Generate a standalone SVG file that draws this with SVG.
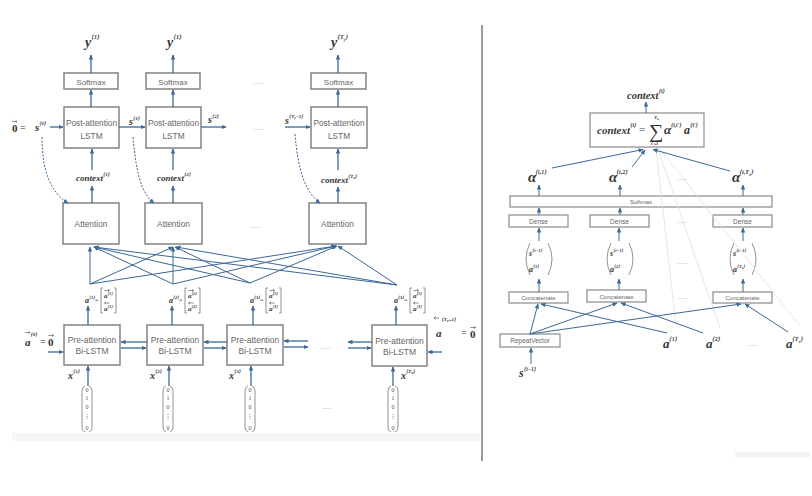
<svg xmlns="http://www.w3.org/2000/svg" xmlns:xlink="http://www.w3.org/1999/xlink" width="812" height="496" viewBox="0 0 812 496">
<defs>
<marker id="ah" viewBox="0 0 10 10" refX="9" refY="5" markerWidth="5" markerHeight="5" markerUnits="userSpaceOnUse" orient="auto"><path d="M0,0.5 L10,5 L0,9.5 z" fill="#3a6898"/></marker>
<path id="rarr" d="M0 0 H5 M3.6 -1.3 L5 0 L3.6 1.3" stroke="#444" stroke-width="0.6" fill="none"/>
<path id="larr" d="M5 0 H0 M1.4 -1.3 L0 0 L1.4 1.3" stroke="#444" stroke-width="0.6" fill="none"/>
<style>
.box{fill:#fff;stroke:#8a8a8a;stroke-width:1.6}
.sbox{fill:#fff;stroke:#8a8a8a;stroke-width:1.2}
.t{font-family:"Liberation Sans",Arial,sans-serif;fill:#666;text-anchor:middle}
.m{font-family:"Liberation Serif","DejaVu Serif",serif;font-style:italic;font-weight:bold;fill:#333}
.n{font-family:"Liberation Serif","DejaVu Serif",serif;fill:#333}
.c{stroke:#3a6898;stroke-width:1.3;fill:none;marker-end:url(#ah)}
.cl{stroke:#3a6898;stroke-width:1;fill:none;marker-end:url(#ah)}
.d{stroke:#3a6898;stroke-width:1;fill:none;stroke-dasharray:2 1.5;marker-end:url(#ah)}
.dots{font-family:"Liberation Sans",sans-serif;font-size:7px;fill:#aaa;text-anchor:middle}
.br{stroke:#777;stroke-width:0.8;fill:none}
.f{stroke:#e0e0e0;stroke-width:0.8;fill:none}
.v{font-family:"Liberation Serif",serif;font-size:6px;fill:#555;text-anchor:middle}
</style>
</defs>
<rect width="812" height="496" fill="#fff"/>
<rect x="12" y="433" width="468" height="8" fill="#f5f5f5"/>
<rect x="735" y="452" width="75" height="6" fill="#f5f5f5"/>
<g id="divider"><line x1="482" y1="25" x2="482" y2="461" stroke="#555" stroke-width="1.2"/></g>

<!-- LEFT PANEL NODES -->
<g id="softmax1"><rect class="box" x="64" y="73" width="54" height="16"/><text class="t" x="91" y="84.5" font-size="8">Softmax</text></g>
<g id="softmax2"><rect class="box" x="146" y="73" width="54" height="16"/><text class="t" x="173" y="84.5" font-size="8">Softmax</text></g>
<g id="softmax3"><rect class="box" x="311" y="73" width="55" height="16"/><text class="t" x="338.5" y="84.5" font-size="8">Softmax</text></g>

<g id="post1"><rect class="box" x="64" y="107" width="55" height="41"/><text class="t" x="91.5" y="126" font-size="8.3">Post-attention</text><text class="t" x="91.5" y="139" font-size="8.3">LSTM</text></g>
<g id="post2"><rect class="box" x="146" y="107" width="55" height="41"/><text class="t" x="173.5" y="126" font-size="8.3">Post-attention</text><text class="t" x="173.5" y="139" font-size="8.3">LSTM</text></g>
<g id="post3"><rect class="box" x="311" y="107" width="56" height="41"/><text class="t" x="339" y="126" font-size="8.3">Post-attention</text><text class="t" x="339" y="139" font-size="8.3">LSTM</text></g>

<g id="att1"><rect class="box" x="63" y="203" width="56" height="41"/><text class="t" x="91" y="227" font-size="8.3">Attention</text></g>
<g id="att2"><rect class="box" x="145" y="203" width="57" height="41"/><text class="t" x="173.5" y="227" font-size="8.3">Attention</text></g>
<g id="att3"><rect class="box" x="309" y="203" width="57" height="41"/><text class="t" x="337.5" y="227" font-size="8.3">Attention</text></g>

<g id="pre1"><rect class="box" x="64" y="325" width="56" height="40"/><text class="t" x="92" y="343" font-size="8.5">Pre-attention</text><text class="t" x="92" y="354" font-size="8.5">Bi-LSTM</text></g>
<g id="pre2"><rect class="box" x="147" y="325" width="56" height="40"/><text class="t" x="175" y="343" font-size="8.5">Pre-attention</text><text class="t" x="175" y="354" font-size="8.5">Bi-LSTM</text></g>
<g id="pre3"><rect class="box" x="227" y="325" width="56" height="40"/><text class="t" x="255" y="343" font-size="8.5">Pre-attention</text><text class="t" x="255" y="354" font-size="8.5">Bi-LSTM</text></g>
<g id="pre4"><rect class="box" x="372" y="325" width="55" height="41"/><text class="t" x="399.5" y="344" font-size="8.5">Pre-attention</text><text class="t" x="399.5" y="355" font-size="8.5">Bi-LSTM</text></g>

<!-- LEFT LABELS -->
<g id="labels-left">
<text class="m" x="85" y="47" font-size="14">y<tspan font-size="6" dy="-8">⟨1⟩</tspan></text>
<text class="m" x="167" y="47" font-size="14">y<tspan font-size="6" dy="-8">⟨1⟩</tspan></text>
<text class="m" x="331" y="47" font-size="14">y<tspan font-size="6" dy="-8">⟨T<tspan font-size="4" dy="1.5">y</tspan><tspan dy="-1.5">⟩</tspan></tspan></text>

<use xlink:href="#rarr" href="#rarr" x="12" y="121.5"/>
<text class="n" x="12" y="132" font-size="11" font-weight="bold">0</text>
<text class="n" x="20" y="131" font-size="10">=</text>
<text class="m" x="35" y="131" font-size="11">s<tspan font-size="5" dy="-6">⟨0⟩</tspan></text>
<text class="m" x="129" y="125" font-size="10">s<tspan font-size="5" dy="-5">⟨1⟩</tspan></text>
<text class="m" x="208" y="123" font-size="10">s<tspan font-size="5" dy="-5">⟨2⟩</tspan></text>
<text class="m" x="285" y="124" font-size="10">s<tspan font-size="5" dy="-6">⟨T<tspan font-size="3.5" dy="1">y</tspan><tspan dy="-1">−1⟩</tspan></tspan></text>

<text class="m" x="76" y="181" font-size="9">context<tspan font-size="5" dy="-5">⟨1⟩</tspan></text>
<text class="m" x="157" y="181" font-size="9">context<tspan font-size="5" dy="-5">⟨2⟩</tspan></text>
<text class="m" x="321" y="183" font-size="9">context<tspan font-size="5" dy="-5">⟨T<tspan font-size="3.5" dy="1">x</tspan><tspan dy="-1">⟩</tspan></tspan></text>

<text class="dots" x="258" y="84">.....</text>
<text class="dots" x="258" y="130">.....</text>
<text class="dots" x="255" y="228">.....</text>
<text class="dots" x="325" y="349">.....</text>
<text class="dots" x="327" y="409">.....</text>

<use xlink:href="#rarr" href="#rarr" x="25" y="332.5"/>
<text class="m" x="25" y="346" font-size="11">a<tspan font-size="5" dy="-10">⟨0⟩</tspan></text>
<text class="n" x="40" y="345" font-size="10">=</text>
<use xlink:href="#rarr" href="#rarr" x="48.5" y="335.5"/>
<text class="n" x="48" y="346" font-size="11" font-weight="bold">0</text>

<use xlink:href="#larr" href="#larr" x="434" y="318"/>
<text class="m" x="436" y="337" font-size="11">a<tspan font-size="5" dy="-16">⟨T<tspan font-size="3.5" dy="1">x</tspan><tspan dy="-1">+1⟩</tspan></tspan></text>
<text class="n" x="461" y="336" font-size="10">=</text>
<use xlink:href="#rarr" href="#rarr" x="470.5" y="327.5"/>
<text class="n" x="470" y="338" font-size="11" font-weight="bold">0</text>

<text class="m" x="68" y="379" font-size="10">x<tspan font-size="5" dy="-6">⟨1⟩</tspan></text>
<text class="m" x="150" y="379" font-size="10">x<tspan font-size="5" dy="-6">⟨2⟩</tspan></text>
<text class="m" x="229" y="379" font-size="10">x<tspan font-size="5" dy="-6">⟨3⟩</tspan></text>
<text class="m" x="401" y="379" font-size="10">x<tspan font-size="5" dy="-6">⟨T<tspan font-size="3.5" dy="1">x</tspan><tspan dy="-1">⟩</tspan></tspan></text>
</g>

<g id="alabel1">
<text class="m" x="85" y="303" font-size="8">a<tspan font-size="4.5" dy="-4">⟨1⟩</tspan></text>
<text class="n" x="95" y="302" font-size="6">=</text>
<path class="br" d="M103 288 h-2 v25 h2 M114 288 h2 v25 h-2"/>
<use xlink:href="#rarr" href="#rarr" x="104.5" y="290.5"/>
<text class="m" x="104" y="298" font-size="7">a<tspan font-size="4" dy="-3.5">⟨1⟩</tspan></text>
<use xlink:href="#larr" href="#larr" x="104.5" y="303"/>
<text class="m" x="104" y="311" font-size="7">a<tspan font-size="4" dy="-3.5">⟨1⟩</tspan></text>
</g>
<g id="alabel2">
<text class="m" x="169" y="303" font-size="8">a<tspan font-size="4.5" dy="-4">⟨2⟩</tspan></text>
<text class="n" x="179" y="302" font-size="6">=</text>
<path class="br" d="M187 288 h-2 v25 h2 M198 288 h2 v25 h-2"/>
<use xlink:href="#rarr" href="#rarr" x="188.5" y="290.5"/>
<text class="m" x="188" y="298" font-size="7">a<tspan font-size="4" dy="-3.5">⟨2⟩</tspan></text>
<use xlink:href="#larr" href="#larr" x="188.5" y="303"/>
<text class="m" x="188" y="311" font-size="7">a<tspan font-size="4" dy="-3.5">⟨2⟩</tspan></text>
</g>
<g id="alabel3">
<text class="m" x="250" y="303" font-size="8">a<tspan font-size="4.5" dy="-4">⟨3⟩</tspan></text>
<text class="n" x="260" y="302" font-size="6">=</text>
<path class="br" d="M268 288 h-2 v25 h2 M279 288 h2 v25 h-2"/>
<use xlink:href="#rarr" href="#rarr" x="269.5" y="290.5"/>
<text class="m" x="269" y="298" font-size="7">a<tspan font-size="4" dy="-3.5">⟨3⟩</tspan></text>
<use xlink:href="#larr" href="#larr" x="269.5" y="303"/>
<text class="m" x="269" y="311" font-size="7">a<tspan font-size="4" dy="-3.5">⟨3⟩</tspan></text>
</g>
<g id="alabel4">
<text class="m" x="394" y="303" font-size="8">a<tspan font-size="4.5" dy="-4">⟨3⟩</tspan></text>
<text class="n" x="404" y="302" font-size="6">=</text>
<path class="br" d="M412 288 h-2 v25 h2 M423 288 h2 v25 h-2"/>
<use xlink:href="#rarr" href="#rarr" x="413.5" y="290.5"/>
<text class="m" x="413" y="298" font-size="7">a<tspan font-size="4" dy="-3.5">⟨3⟩</tspan></text>
<use xlink:href="#larr" href="#larr" x="413.5" y="303"/>
<text class="m" x="413" y="311" font-size="7">a<tspan font-size="4" dy="-3.5">⟨3⟩</tspan></text>
</g>

<g id="input1"><path class="br" d="M85 386 Q82 387 82 391 L82 427 Q82 431 85 432 M89 386 Q92 387 92 391 L92 427 Q92 431 89 432"/>
<text class="v" x="87" y="392">0</text><text class="v" x="87" y="400">1</text><text class="v" x="87" y="409">0</text><text class="v" x="87" y="418">⋮</text><text class="v" x="87" y="430">0</text></g>
<g id="input2"><path class="br" d="M166 386 Q163 387 163 391 L163 427 Q163 431 166 432 M170 386 Q173 387 173 391 L173 427 Q173 431 170 432"/>
<text class="v" x="168" y="392">0</text><text class="v" x="168" y="400">1</text><text class="v" x="168" y="409">0</text><text class="v" x="168" y="418">⋮</text><text class="v" x="168" y="430">0</text></g>
<g id="input3"><path class="br" d="M248 386 Q245 387 245 391 L245 427 Q245 431 248 432 M252 386 Q255 387 255 391 L255 427 Q255 431 252 432"/>
<text class="v" x="250" y="392">0</text><text class="v" x="250" y="400">1</text><text class="v" x="250" y="409">0</text><text class="v" x="250" y="418">⋮</text><text class="v" x="250" y="430">0</text></g>
<g id="input4"><path class="br" d="M391 386 Q388 387 388 391 L388 427 Q388 431 391 432 M395 386 Q398 387 398 391 L398 427 Q398 431 395 432"/>
<text class="v" x="393" y="392">0</text><text class="v" x="393" y="400">1</text><text class="v" x="393" y="409">0</text><text class="v" x="393" y="418">⋮</text><text class="v" x="393" y="430">0</text></g>

<!-- RIGHT PANEL NODES -->
<g id="ctx-label"><text class="m" x="627" y="99" font-size="10.5">context<tspan font-size="5.5" dy="-6">⟨t⟩</tspan></text></g>
<g id="ctx-box"><rect class="sbox" x="590" y="113" width="114" height="34"/>
<text class="m" x="597" y="134" font-size="11">context<tspan font-size="5.5" dy="-7">⟨t⟩</tspan></text>
<text class="n" x="639" y="133" font-size="11">=</text>
<text class="n" x="649" y="138" font-size="20">∑</text>
<text class="m" x="654" y="119" font-size="5">T<tspan font-size="3.5" dy="1">x</tspan></text>
<text class="m" x="651" y="145" font-size="4.5">t′=1</text>
<text class="m" x="664" y="134" font-size="13">α<tspan font-size="5.5" dy="-7" dx="-0.5">⟨t,t′⟩</tspan></text>
<text class="m" x="684" y="134" font-size="12">a<tspan font-size="5.5" dy="-7">⟨t′⟩</tspan></text>
</g>
<g id="alpha1"><text class="m" x="528" y="182" font-size="15">α<tspan font-size="6" dy="-8" dx="-1">⟨t,1⟩</tspan></text></g>
<g id="alpha2"><text class="m" x="609" y="182" font-size="15">α<tspan font-size="6" dy="-8" dx="-1">⟨t,2⟩</tspan></text></g>
<g id="alpha3"><text class="m" x="732" y="182" font-size="15">α<tspan font-size="6" dy="-8" dx="-1">⟨t,T<tspan font-size="4" dy="1.5">x</tspan><tspan dy="-1.5">⟩</tspan></tspan></text></g>
<g id="softmax-r"><rect class="sbox" x="510" y="196" width="262" height="11"/><text class="t" x="641" y="203.5" font-size="6">Softmax</text></g>
<g id="dense1"><rect class="sbox" x="509" y="215" width="59" height="12"/><text class="t" x="538.5" y="223.5" font-size="6.5">Dense</text></g>
<g id="dense2"><rect class="sbox" x="590" y="215" width="59" height="12"/><text class="t" x="619.5" y="223.5" font-size="6.5">Dense</text></g>
<g id="dense3"><rect class="sbox" x="713" y="215" width="59" height="12"/><text class="t" x="742.5" y="223.5" font-size="6.5">Dense</text></g>
<g id="vec1"><path class="br" d="M530 243 Q522 259 530 275 M548 243 Q556 259 548 275"/>
<text class="m" x="529" y="256" font-size="8">s<tspan font-size="4.5" dy="-4">⟨t−1⟩</tspan></text>
<text class="m" x="529" y="272" font-size="8">a<tspan font-size="4.5" dy="-4">⟨1⟩</tspan></text></g>
<g id="vec2"><path class="br" d="M611 243 Q603 259 611 275 M629 243 Q637 259 629 275"/>
<text class="m" x="610" y="256" font-size="8">s<tspan font-size="4.5" dy="-4">⟨t−1⟩</tspan></text>
<text class="m" x="610" y="272" font-size="8">a<tspan font-size="4.5" dy="-4">⟨2⟩</tspan></text></g>
<g id="vec3"><path class="br" d="M734 243 Q726 259 734 275 M752 243 Q760 259 752 275"/>
<text class="m" x="733" y="256" font-size="8">s<tspan font-size="4.5" dy="-4">⟨t−1⟩</tspan></text>
<text class="m" x="733" y="272" font-size="8">a<tspan font-size="4.5" dy="-4">⟨T<tspan font-size="3" dy="1">x</tspan><tspan dy="-1">⟩</tspan></tspan></text></g>
<g id="concat1"><rect class="sbox" x="509" y="292" width="59" height="11"/><text class="t" x="538.5" y="300" font-size="6">Concatenate</text></g>
<g id="concat2"><rect class="sbox" x="587" y="290" width="59" height="12"/><text class="t" x="616.5" y="298.5" font-size="6">Concatenate</text></g>
<g id="concat3"><rect class="sbox" x="713" y="292" width="59" height="11"/><text class="t" x="742.5" y="300" font-size="6">Concatenate</text></g>
<g id="repeat"><rect class="sbox" x="500" y="334" width="60" height="13"/><text class="t" x="530" y="343" font-size="6.5">RepeatVector</text></g>
<g id="s-prev"><text class="m" x="519" y="377" font-size="12">s<tspan font-size="5.5" dy="-6">⟨t−1⟩</tspan></text></g>
<g id="a1"><text class="m" x="663" y="348" font-size="13">a<tspan font-size="6" dy="-7" dx="-0.5">⟨1⟩</tspan></text></g>
<g id="a2"><text class="m" x="706" y="348" font-size="13">a<tspan font-size="6" dy="-7" dx="-0.5">⟨2⟩</tspan></text></g>
<g id="aTx"><text class="m" x="786" y="348" font-size="13">a<tspan font-size="6" dy="-7" dx="-0.5">⟨T<tspan font-size="4" dy="1.5">x</tspan><tspan dy="-1.5">⟩</tspan></tspan></text></g>
<text class="dots" x="682" y="180">.....</text>
<text class="dots" x="682" y="223">.....</text>
<text class="dots" x="682" y="264">.....</text>
<text class="dots" x="682" y="299">.....</text>
<text class="dots" x="753" y="346">.....</text>

<!-- CONNECTORS -->
<g id="connectors">
<path class="f" d="M656 149 L676 325 M658 149 L720 328 M660 149 L800 326"/>
<path class="c" d="M91 73 V55"/><path class="c" d="M173 73 V55"/><path class="c" d="M338 73 V55"/>
<path class="c" d="M91 107 V90"/><path class="c" d="M173 107 V90"/><path class="c" d="M338 107 V90"/>
<path class="c" d="M50 127 H63"/><path class="c" d="M119 127 H145"/><path class="c" d="M201 127 H226"/><path class="c" d="M285 127 H310"/>
<path class="c" d="M92 203 V186"/><path class="c" d="M92 170 V149"/>
<path class="c" d="M173 203 V186"/><path class="c" d="M173 170 V149"/>
<path class="c" d="M338 203 V187"/><path class="c" d="M338 170 V149"/>
<path class="d" d="M42 137 C42 170 50 192 68 203"/>
<path class="d" d="M133 137 C136 170 140 192 154 203"/>
<path class="d" d="M295 134 C298 170 305 192 320 203"/>
<path class="cl" d="M90 284 V247"/><path class="cl" d="M90 284 L173 247"/><path class="cl" d="M90 284 L336 246"/>
<path class="cl" d="M173 284 L94 247"/><path class="cl" d="M173 284 V247"/><path class="cl" d="M173 284 L336 246"/>
<path class="cl" d="M250 283 L94 247"/><path class="cl" d="M250 283 L175 247"/><path class="cl" d="M250 283 L337 246"/>
<path class="cl" d="M397 285 L94 247"/><path class="cl" d="M397 285 L176 247"/><path class="cl" d="M397 285 L338 246"/>
<path class="c" d="M88 325 V306"/><path class="c" d="M172 325 V306"/><path class="c" d="M253 325 V306"/><path class="c" d="M396 325 V306"/>
<path class="c" d="M147 342 H121"/><path class="c" d="M121 348 H146"/>
<path class="c" d="M227 342 H204"/><path class="c" d="M204 348 H226"/>
<path class="c" d="M308 341 H284"/><path class="c" d="M284 347 H308"/>
<path class="c" d="M372 342 H348"/><path class="c" d="M348 348 H371"/>
<path class="c" d="M48 352 H63"/><path class="c" d="M442 352 H428"/>
<path class="c" d="M88 386 V366"/><path class="c" d="M169 386 V366"/><path class="c" d="M251 386 V366"/><path class="c" d="M393 386 V367"/>
<path class="cl" d="M646 113 V102"/>
<path class="cl" d="M552 168 L643 149.5"/><path class="cl" d="M632 167 L645 150"/><path class="cl" d="M730 171 L653 149.5"/>
<path class="cl" d="M539 196 V185"/><path class="cl" d="M620 196 V185"/><path class="cl" d="M743 196 V185"/>
<path class="cl" d="M539 215 V208"/><path class="cl" d="M620 215 V208"/><path class="cl" d="M743 215 V208"/>
<path class="cl" d="M539 241 V228"/><path class="cl" d="M619 241 V228"/><path class="cl" d="M743 241 V228"/>
<path class="cl" d="M539 292 V279"/><path class="cl" d="M619 290 V279"/><path class="cl" d="M743 292 V279"/>
<path class="cl" d="M530 334 L538 304"/><path class="cl" d="M530 334 L617 303"/><path class="cl" d="M530 334 L741 304"/>
<path class="cl" d="M667 333 L541 304"/><path class="cl" d="M703 333 L621 303"/><path class="cl" d="M788 332 L745 304"/>
<path class="cl" d="M531 364 V348"/>
</g>
</svg>
